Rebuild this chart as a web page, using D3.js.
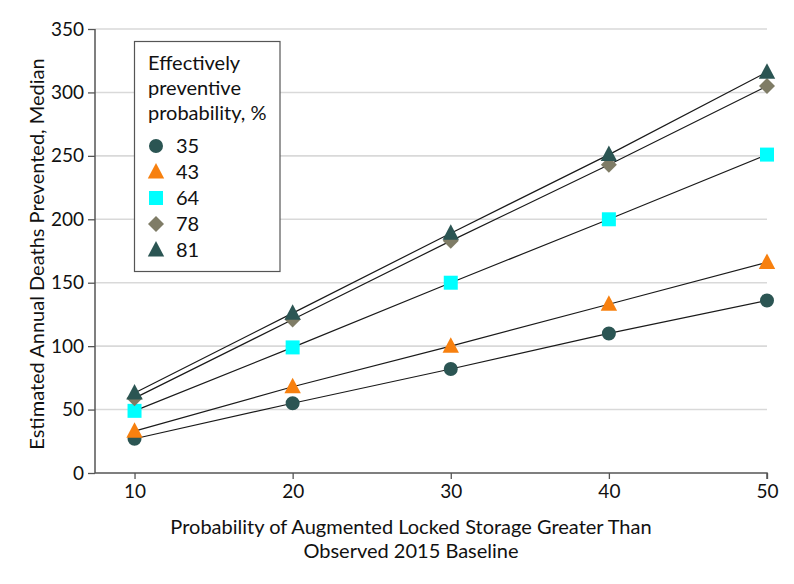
<!DOCTYPE html>
<html>
<head>
<meta charset="utf-8">
<script src="https://cdn.jsdelivr.net/npm/d3@7"></script>
<style>
  html, body { margin: 0; padding: 0; background: #fff; }
  svg { display: block; }
  text { font-family: Lato, "Noto Sans", sans-serif; fill: #111; }
</style>
</head>
<body>
<svg id="chart" width="794" height="584"></svg>
<script>
const xValues = [10, 20, 30, 40, 50];
const seriesNames = ["35", "43", "64", "78", "81"];
const s35 = [27, 55, 82, 110, 136];
const s43 = [33, 68, 100, 133, 166];
const s64 = [49, 99, 150, 200, 251];
const s78 = [59, 121, 183, 243, 305];
const s81 = [63, 126, 189, 251, 316];
const seriesValues = [s35, s43, s64, s78, s81];
const seriesShapes = ["circle", "triangle", "square", "diamond", "triangle"];
const seriesColors = ["#2b5553", "#f7800f", "#00ffff", "#7f7c66", "#2b5553"];
const xTicks = [10, 20, 30, 40, 50];
const yTicks = [0, 50, 100, 150, 200, 250, 300, 350];
const legendTitle = ["Effectively", "preventive", "probability, %"];
const xLabel = ["Probability of Augmented Locked Storage Greater Than", "Observed 2015 Baseline"];
const yLabel = "Estimated Annual Deaths Prevented, Median";

const svg = d3.select("#chart");
const x = d3.scaleLinear().domain([7.5, 50]).range([95, 767]);
const y = d3.scaleLinear().domain([0, 350]).range([473, 29]);

// gridlines
svg.append("g").selectAll("line").data(yTicks.filter(d => d > 0)).join("line")
  .attr("x1", x(7.5)).attr("x2", x(50))
  .attr("y1", d => y(d)).attr("y2", d => y(d))
  .attr("stroke", "#d9d9d9").attr("stroke-width", 1.6);

// axes
const xAxis = svg.append("g").attr("transform", `translate(0,${y(0)})`)
  .call(d3.axisBottom(x).tickValues(xTicks).tickSize(6).tickPadding(6));
const yAxis = svg.append("g").attr("transform", `translate(${x(7.5)},0)`)
  .call(d3.axisLeft(y).tickValues(yTicks).tickSize(7).tickPadding(4));
[xAxis, yAxis].forEach(a => {
  a.select(".domain").attr("stroke", "#555").attr("stroke-width", 1.5);
  a.selectAll(".tick line").attr("stroke", "#555").attr("stroke-width", 1.3);
  a.selectAll(".tick text").attr("font-size", 19).attr("font-family", "Lato, 'Noto Sans', sans-serif").attr("fill", "#111");
});
xAxis.selectAll(".domain").attr("d", `M${x(7.5)},0H${x(50)}V6`);
yAxis.selectAll(".domain").attr("d", `M0,${y(350)}V${y(0)}`);

// lines
const line = d3.line().x((d, i) => x(xValues[i])).y(d => y(d));
svg.append("g").selectAll("path").data(seriesValues).join("path")
  .attr("d", d => line(d)).attr("fill", "none").attr("stroke", "#1a1a1a").attr("stroke-width", 1.2);

// markers
function symbolFor(shape) {
  if (shape === "circle") return d3.symbol(d3.symbolCircle, 154)();
  if (shape === "square") return d3.symbol(d3.symbolSquare, 196)();
  if (shape === "diamond") return "M0,-8L8,0L0,8L-8,0Z";
  return "M0,-9L8.2,6.5L-8.2,6.5Z";
}
seriesValues.forEach((vals, si) => {
  svg.append("g").selectAll("path").data(vals).join("path")
    .attr("transform", (d, i) => `translate(${x(xValues[i])},${y(d)})`)
    .attr("d", symbolFor(seriesShapes[si]))
    .attr("fill", seriesColors[si]);
});

// legend
const lg = svg.append("g");
lg.append("rect").attr("x", 134.5).attr("y", 41.5).attr("width", 145.5).attr("height", 230)
  .attr("fill", "#fff").attr("stroke", "#555").attr("stroke-width", 1.2);
lg.selectAll("text.title").data(legendTitle).join("text").attr("class", "title")
  .attr("x", 148).attr("y", (d, i) => 70 + i * 25).attr("font-size", 20).text(d => d);
seriesNames.forEach((n, i) => {
  const cy = 146 + i * 26;
  lg.append("path").attr("transform", `translate(156,${cy})`)
    .attr("d", symbolFor(seriesShapes[i])).attr("fill", seriesColors[i]);
  lg.append("text").attr("x", 176).attr("y", cy + 7).attr("font-size", 20).text(n);
});

// axis labels
svg.append("g").selectAll("text").data(xLabel).join("text")
  .attr("x", 411).attr("y", (d, i) => 534 + i * 24)
  .attr("text-anchor", "middle").attr("font-size", 20).text(d => d);
svg.append("text").attr("transform", "translate(44,254) rotate(-90)")
  .attr("text-anchor", "middle").attr("font-size", 20).text(yLabel);
</script>
</body>
</html>
